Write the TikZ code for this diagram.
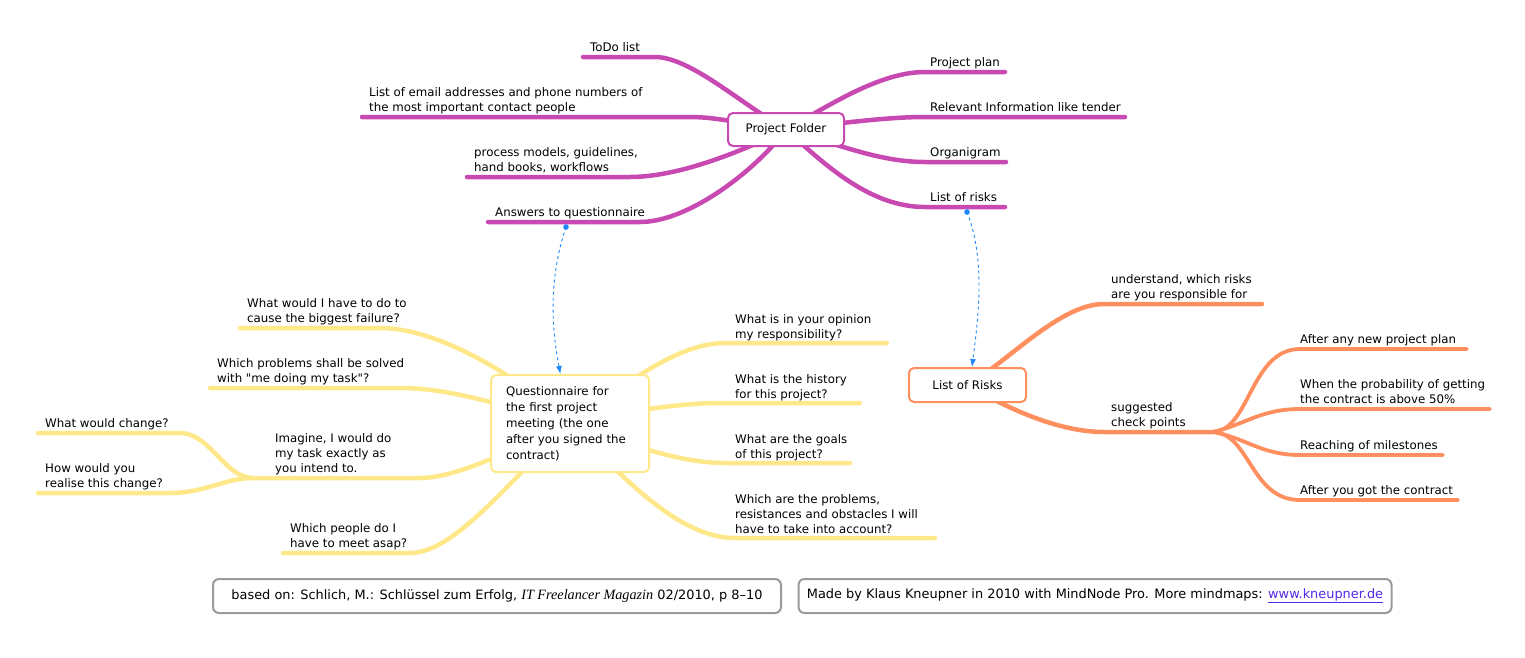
\documentclass[tikz,border=0pt]{standalone}
\usepackage{fontspec}
\setmainfont{DejaVu Sans}[Ligatures=TeXOff]
\newfontfamily\footserif{Liberation Serif}
\usetikzlibrary{backgrounds,arrows.meta}
\definecolor{foldcol}{RGB}{201,73,179}
\definecolor{questcol}{RGB}{255,232,138}
\definecolor{riskcol}{RGB}{255,143,94}
\definecolor{linkcol}{RGB}{30,136,255}
\definecolor{framecol}{RGB}{155,155,155}
\definecolor{urlcol}{RGB}{85,40,230}
\newcommand\mapfont{\fontsize{11.8}{15}\selectfont}
\begin{document}
\begin{tikzpicture}[x=1pt, y=-1pt,
  fold/.style={draw=foldcol, line width=4.5pt, line cap=round},
  quest/.style={draw=questcol, line width=4.5pt, line cap=round},
  risk/.style={draw=riskcol, line width=4.5pt, line cap=round},
  risksub/.style={draw=riskcol, line width=3.8pt, line cap=round},
  lbl/.style={anchor=south west, inner sep=0pt, align=left, text depth=0pt, font=\mapfont},
  box/.style={rounded corners=5pt, fill=white, line width=2pt, font=\mapfont},
  foot/.style={rounded corners=6pt, draw=framecol, fill=white, line width=2pt, minimum height=34pt, font=\fontsize{12.9}{15}\selectfont},
  link/.style={draw=linkcol, dashed, line width=0.9pt, -{Latex[length=8pt,width=6pt]}}]
\useasboundingbox (0,0) rectangle (1525,657);

\node[box, draw=foldcol, minimum width=116pt, minimum height=33pt] (pf) at (786,129.5) {Project Folder};
\node[box, draw=questcol, minimum width=158pt, minimum height=97pt, text width=128pt, align=left, font=\fontsize{11.8}{16}\selectfont] (qn) at (570,423.5) {Questionnaire for\\the first project\\meeting (the one\\after you signed the\\contract)};
\node[box, draw=riskcol, minimum width=117pt, minimum height=34pt] (rk) at (967.5,385) {List of Risks};

\node[lbl] (todo) at (590,52) {ToDo list};
\node[lbl] (email) at (369,112) {List of email addresses and phone numbers of\\the most important contact people};
\node[lbl] (process) at (474,172) {process models, guidelines,\\hand books, workflows};
\node[lbl] (answers) at (495,217) {Answers to questionnaire};
\node[lbl] (plan) at (930,67) {Project plan};
\node[lbl] (tender) at (930,112) {Relevant Information like tender};
\node[lbl] (organi) at (930,157) {Organigram};
\node[lbl] (risks) at (930,202) {List of risks};

\node[lbl] (failure) at (247,323) {What would I have to do to\\cause the biggest failure?};
\node[lbl] (solved) at (217,383) {Which problems shall be solved\\with "me doing my task"?};
\node[lbl] (imagine) at (275,473) {Imagine, I would do\\my task exactly as\\you intend to.};
\node[lbl] (change) at (45,428) {What would change?};
\node[lbl] (realise) at (45,488) {How would you\\realise this change?};
\node[lbl] (people) at (290,548) {Which people do I\\have to meet asap?};
\node[lbl] (opinion) at (735,339) {What is in your opinion\\my responsibility?};
\node[lbl] (history) at (735,399) {What is the history\\for this project?};
\node[lbl] (goals) at (735,459) {What are the goals\\of this project?};
\node[lbl] (obstacles) at (735,534) {Which are the problems,\\resistances and obstacles I will\\have to take into account?};

\node[lbl] (understand) at (1111,299) {understand, which risks\\are you responsible for};
\node[lbl] (checks) at (1111,427) {suggested\\check points};
\node[lbl] (newplan) at (1300,344) {After any new project plan};
\node[lbl] (probab) at (1300,404) {When the probability of getting\\the contract is above 50\%};
\node[lbl] (miles) at (1300,450) {Reaching of milestones};
\node[lbl] (gotit) at (1300,495) {After you got the contract};

\node[foot, minimum width=568pt] (source) at (497,596) {based on: Schlich, M.: Schlüssel zum Erfolg, {\footserif\itshape\fontsize{14.2}{15}\selectfont IT Freelancer Magazin} 02/2010, p 8\textendash10};
\node[foot, minimum width=593pt] (made) at (1095,596) {Made by Klaus Kneupner in 2010 with MindNode Pro. More mindmaps: {\color{urlcol}\underline{www.kneupner.de}}};

\coordinate (ans-dot) at (566,227);
\coordinate (risk-dot) at (967,212);
\coordinate (junc-q) at (253,478);
\coordinate (junc-r) at (1212,432);

\begin{scope}[on background layer]
\draw[fold] (pf.center) .. controls (740,103) and (690,57) .. (655,57) -- (583,57);
\draw[fold] (pf.center) .. controls (745,125) and (720,117) .. (690,117) -- (362,117);
\draw[fold] (pf.center) .. controls (745,150) and (680,177) .. (630,177) -- (467,177);
\draw[fold] (pf.center) .. controls (758,168) and (690,222) .. (640,222) -- (488,222);
\draw[fold] (pf.center) .. controls (830,105) and (880,72) .. (925,72) -- (1005,72);
\draw[fold] (pf.center) .. controls (850,122) and (890,117) .. (925,117) -- (1125,117);
\draw[fold] (pf.center) .. controls (840,145) and (880,162) .. (925,162) -- (1006,162);
\draw[fold] (pf.center) .. controls (825,165) and (870,207) .. (925,207) -- (1005,207);

\draw[quest] (qn.center) .. controls (520,378) and (440,328) .. (380,328) -- (240,328);
\draw[quest] (qn.center) .. controls (500,405) and (450,388) .. (400,388) -- (210,388);
\draw[quest] (qn.center) .. controls (520,445) and (460,478) .. (420,478) -- (junc-q);
\draw[quest] (junc-q) .. controls (225,478) and (210,433) .. (180,433) -- (38,433);
\draw[quest] (junc-q) .. controls (225,478) and (205,493) .. (170,493) -- (38,493);
\draw[quest] (qn.center) .. controls (510,480) and (455,553) .. (410,553) -- (283,553);
\draw[quest] (qn.center) .. controls (630,380) and (680,343) .. (725,343) -- (887,343);
\draw[quest] (qn.center) .. controls (620,412) and (680,403) .. (720,403) -- (860,403);
\draw[quest] (qn.center) .. controls (630,445) and (680,463) .. (725,463) -- (850,463);
\draw[quest] (qn.center) .. controls (625,480) and (680,538) .. (735,538) -- (935,538);

\draw[risk] (rk.center) .. controls (1010,360) and (1060,304) .. (1104,304) -- (1262,304);
\draw[risk] (rk.center) .. controls (1010,410) and (1060,432) .. (1104,432) -- (junc-r);
\draw[risksub] (junc-r) .. controls (1250,432) and (1250,349) .. (1300,349) -- (1467,349);
\draw[risksub] (junc-r) .. controls (1245,425) and (1260,409) .. (1300,409) -- (1490,409);
\draw[risksub] (junc-r) .. controls (1245,437) and (1260,455) .. (1300,455) -- (1443,455);
\draw[risksub] (junc-r) .. controls (1250,432) and (1250,500) .. (1300,500) -- (1458,500);
\end{scope}

\fill[linkcol] (ans-dot) circle (2.8pt);
\fill[linkcol] (risk-dot) circle (2.8pt);
\draw[link] (ans-dot) .. controls (548,280) and (552,330) .. (qn.101);
\draw[link] (risk-dot) .. controls (986,260) and (978,320) .. (rk.76);
\end{tikzpicture}
\end{document}
